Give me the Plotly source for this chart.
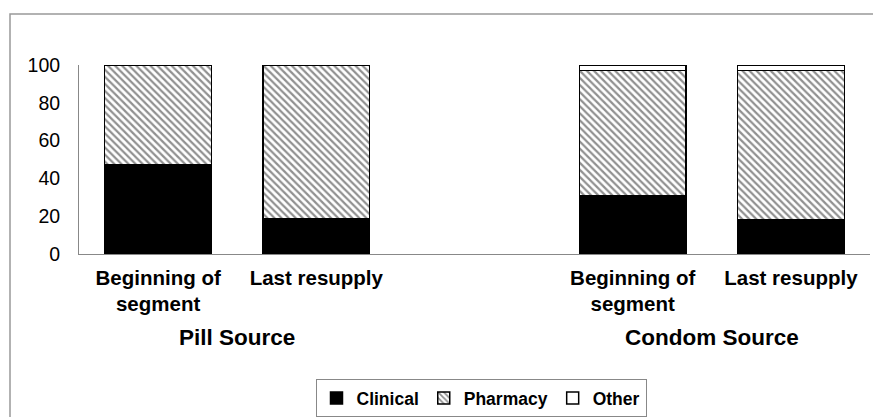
import plotly.graph_objects as go

# Data
positions = [0, 1, 3, 4]
categories = ["Beginning of<br>segment", "Last resupply", "Beginning of<br>segment", "Last resupply"]
groups = ["Pill Source", "Condom Source"]
group_centers = [0.5, 3.5]
clinical = [47, 18.5, 31, 18]
pharmacy = [53, 81.5, 66, 79]
other = [0, 0, 3, 3]

fig = go.Figure()
fig.add_trace(go.Bar(
    x=positions, y=clinical, name="<b>Clinical</b>", width=0.675,
    marker=dict(color="black", line=dict(color="black", width=1.5)),
))
fig.add_trace(go.Bar(
    x=positions, y=pharmacy, name="<b>Pharmacy</b>", width=0.675,
    marker=dict(color="white", line=dict(color="black", width=1.5),
                pattern=dict(shape="\\", fgcolor="#222222", bgcolor="white",
                             size=5, solidity=0.45, fillmode="overlay")),
))
fig.add_trace(go.Bar(
    x=positions, y=other, name="<b>Other</b>", width=0.675,
    marker=dict(color="white", line=dict(color="black", width=1.5)),
))

# page has an 8px body offset; plot area target on screen: x 79..870, y 65..254
annotations = []
for g, c in zip(groups, group_centers):
    annotations.append(dict(
        x=c, y=(254 - 337) / 189, xref="x", yref="paper",
        text="<b>" + g + "</b>", showarrow=False,
        font=dict(size=22.5, color="black", family="Liberation Sans, Arial"),
        xanchor="center", yanchor="middle",
    ))

fig.update_layout(
    barmode="stack",
    width=881, height=417,
    margin=dict(l=71, r=19, t=57, b=171, autoexpand=False),
    plot_bgcolor="white", paper_bgcolor="white",
    font=dict(family="Liberation Sans, Arial", color="black"),
    showlegend=True,
    legend=dict(
        orientation="h", x=(481 - 79) / 791, xanchor="center",
        y=(254 - 379) / 189, yanchor="top",
        bordercolor="#888888", borderwidth=1,
        font=dict(size=17.5, color="black"),
        traceorder="normal",
        itemwidth=30,
    ),
    xaxis=dict(
        range=[-0.5, 4.5],
        tickvals=positions,
        ticktext=["<b>" + c + "</b>" for c in categories],
        tickfont=dict(size=20.5, color="black"),
        showline=True, linecolor="#888888", linewidth=1,
        showgrid=False, zeroline=False, ticks="",
        tickangle=0, automargin=False, ticklabelstandoff=5,
    ),
    yaxis=dict(
        range=[0, 100], tickvals=[0, 20, 40, 60, 80, 100],
        tickfont=dict(size=19.5, color="black"),
        showline=True, linecolor="#888888", linewidth=1,
        showgrid=False, zeroline=False, ticks="",
        ticklabelstandoff=14, automargin=False,
    ),
    annotations=annotations,
    shapes=[dict(
        type="rect", xref="paper", yref="paper",
        x0=(10 - 79) / 791, x1=(884 - 79) / 791,
        y0=(254 - 425) / 189, y1=(254 - 14) / 189,
        line=dict(color="#999999", width=1.5), fillcolor="rgba(0,0,0,0)",
        layer="below",
    )],
)

fig.write_html("out.html")
